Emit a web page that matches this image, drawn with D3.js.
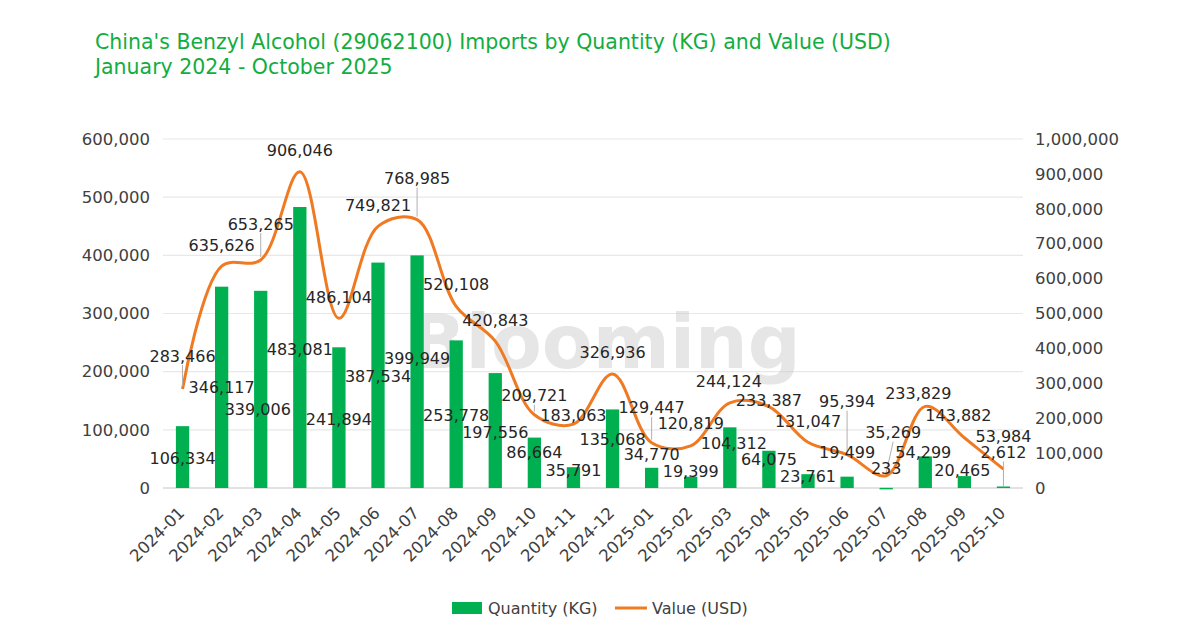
<!DOCTYPE html>
<html>
<head>
<meta charset="utf-8">
<script src="https://cdn.jsdelivr.net/npm/d3@7"></script>
<style>
  body { margin: 0; background: #fff; }
  svg { display: block; }
</style>
</head>
<body>
<div id="container"></div>
<script>
// data
let months = ["2024-01","2024-02","2024-03","2024-04","2024-05","2024-06","2024-07","2024-08",
  "2024-09","2024-10","2024-11","2024-12","2025-01","2025-02","2025-03","2025-04","2025-05",
  "2025-06","2025-07","2025-08","2025-09","2025-10"];
let quantityKG = [106334,346117,339006,483081,241894,387534,399949,253778,197556,86664,35791,
  135068,34770,19399,104312,64075,23761,19499,233,54299,20465,2612];
let valueUSD = [283466,635626,653265,906046,486104,749821,768985,520108,420843,209721,183063,
  326936,129447,120819,244124,233387,131047,95394,35269,233829,143882,53984];
let leftTicks = [0,100000,200000,300000,400000,500000,600000];
let rightTicks = [0,100000,200000,300000,400000,500000,600000,700000,800000,900000,1000000];

// label nudges (pixels), the way the labels were dragged in the original
let barLabelDy = [32,101,119,142,72,114,103,75,59,15,3,30,-13,-5,16,9,2,-24,-19,-4,-6,-34];
let barLabelDx = [0,0,-3,0,0,0,0,0,0,0,0,0,0,0,4,0,0,0,0,-2,-2,0];
let lineLabelDy = [-33,-21,-36,-21,-21,-21,-41,-22,-21,-19,-9,-21,-35,-22,-21,-6,-21,-53,-43,-13,-22,-33];
let lineLabelDx = [0,0,0,0,0,0,0,0,0,0,0,0,0,0,-1,0,0,0,7,-7,-6,0];
let lineLeaders = [0,2,6,9,12,17,18];
let barLeaders = [21];

let w = 1200;
let h = 638;
let plotLeft = 163, plotRight = 1023, plotTop = 139, plotBottom = 488;
let font = "DejaVu Sans";
let green = "#00B050";
let orange = "#F07A22";
let fs = 16;

let viz = d3.select("#container")
  .append("svg")
    .attr("width", w)
    .attr("height", h);

// title
viz.append("text")
  .attr("x", 95).attr("y", 49)
  .attr("font-family", font).attr("font-size", 20.5)
  .attr("fill", "#12AD3F")
  .text("China's Benzyl Alcohol (29062100) Imports by Quantity (KG) and Value (USD)");
viz.append("text")
  .attr("x", 95).attr("y", 74)
  .attr("font-family", font).attr("font-size", 20.5)
  .attr("fill", "#12AD3F")
  .text("January 2024 - October 2025");

let xScale = d3.scaleBand().domain(months).range([plotLeft, plotRight]).paddingInner(0.66).paddingOuter(0.33);
let yLeft = d3.scaleLinear().domain([0, 600000]).range([plotBottom, plotTop]);
let yRight = d3.scaleLinear().domain([0, 1000000]).range([plotBottom, plotTop]);
let fmt = d3.format(",");

// gridlines
viz.append("g").selectAll("line")
  .data(leftTicks)
  .enter().append("line")
    .attr("x1", plotLeft).attr("x2", plotRight)
    .attr("y1", d => yLeft(d)).attr("y2", d => yLeft(d))
    .attr("stroke", d => d == 0 ? "#d9d9d9" : "#e8e8e8")
    .attr("stroke-width", d => d == 0 ? 1.5 : 1.2);

// axes
let leftAxis = viz.append("g")
  .attr("transform", "translate(" + (plotLeft - 13) + ",0)")
  .call(d3.axisLeft(yLeft).tickValues(leftTicks).tickFormat(fmt).tickSize(0).tickPadding(0));
let rightAxis = viz.append("g")
  .attr("transform", "translate(" + (plotRight + 12) + ",0)")
  .call(d3.axisRight(yRight).tickValues(rightTicks).tickFormat(fmt).tickSize(0).tickPadding(0));
let xAxis = viz.append("g")
  .attr("transform", "translate(0," + plotBottom + ")")
  .call(d3.axisBottom(xScale).tickSize(0).tickPadding(0));
xAxis.selectAll("text")
  .attr("text-anchor", "end")
  .attr("x", 0).attr("y", 0).attr("dx", 0).attr("dy", 0)
  .attr("transform", "translate(3,26) rotate(-45)");

[leftAxis, rightAxis, xAxis].forEach(function(a){
  a.select(".domain").remove();
  a.selectAll("text")
    .attr("font-family", font)
    .attr("font-size", fs + 0.5)
    .attr("fill", "#404040");
});

// watermark
viz.append("text")
  .attr("x", 605).attr("y", 368)
  .attr("text-anchor", "middle")
  .attr("font-family", font).attr("font-size", 74).attr("font-weight", "bold")
  .attr("fill", "#c8c8c8").attr("opacity", 0.45)
  .text("Blooming");

// bars
viz.append("g").selectAll("rect")
  .data(quantityKG)
  .enter().append("rect")
    .attr("x", (d, i) => xScale(months[i]))
    .attr("width", xScale.bandwidth())
    .attr("y", d => yLeft(d))
    .attr("height", d => Math.max(plotBottom - yLeft(d), 1.5))
    .attr("fill", green);

// line
let cx = i => xScale(months[i]) + xScale.bandwidth() / 2;
let line = d3.line()
  .x((d, i) => cx(i))
  .y(d => yRight(d))
  .curve(d3.curveCatmullRom.alpha(0.5));
viz.append("path")
  .datum(valueUSD)
  .attr("d", line)
  .attr("fill", "none")
  .attr("stroke", orange)
  .attr("stroke-width", 3);

// leader lines
let leaders = viz.append("g").attr("stroke", "#b0b0b0").attr("stroke-width", 1);
lineLeaders.forEach(function(i){
  let x0 = cx(i) + lineLabelDx[i];
  let y0 = yRight(valueUSD[i]) + lineLabelDy[i] + 9;
  leaders.append("line")
    .attr("x1", x0).attr("y1", y0)
    .attr("x2", cx(i)).attr("y2", yRight(valueUSD[i]) - 3);
});
barLeaders.forEach(function(i){
  let x0 = cx(i) + barLabelDx[i];
  let y0 = yLeft(quantityKG[i]) + barLabelDy[i] + 9;
  leaders.append("line")
    .attr("x1", x0).attr("y1", y0)
    .attr("x2", cx(i)).attr("y2", yLeft(quantityKG[i]));
});

// data labels
function labels(values, scale, dx, dy){
  viz.append("g").selectAll("text")
    .data(values)
    .enter().append("text")
      .attr("x", (d, i) => cx(i) + dx[i])
      .attr("y", (d, i) => scale(d) + dy[i])
      .attr("text-anchor", "middle")
      .attr("dominant-baseline", "central")
      .attr("font-family", font)
      .attr("font-size", fs)
      .attr("fill", "#262626")
      .text(d => fmt(d));
}
labels(quantityKG, yLeft, barLabelDx, barLabelDy);
labels(valueUSD, yRight, lineLabelDx, lineLabelDy);

// legend
let legend = viz.append("g").attr("font-family", font).attr("font-size", fs).attr("fill", "#404040");
legend.append("rect").attr("x", 452).attr("y", 602).attr("width", 30).attr("height", 12).attr("fill", green);
legend.append("text").attr("x", 488).attr("y", 608).attr("dominant-baseline", "central").text("Quantity (KG)");
legend.append("line").attr("x1", 615).attr("x2", 647).attr("y1", 608).attr("y2", 608)
  .attr("stroke", orange).attr("stroke-width", 3);
legend.append("text").attr("x", 652).attr("y", 608).attr("dominant-baseline", "central").text("Value (USD)");
</script>
</body>
</html>
